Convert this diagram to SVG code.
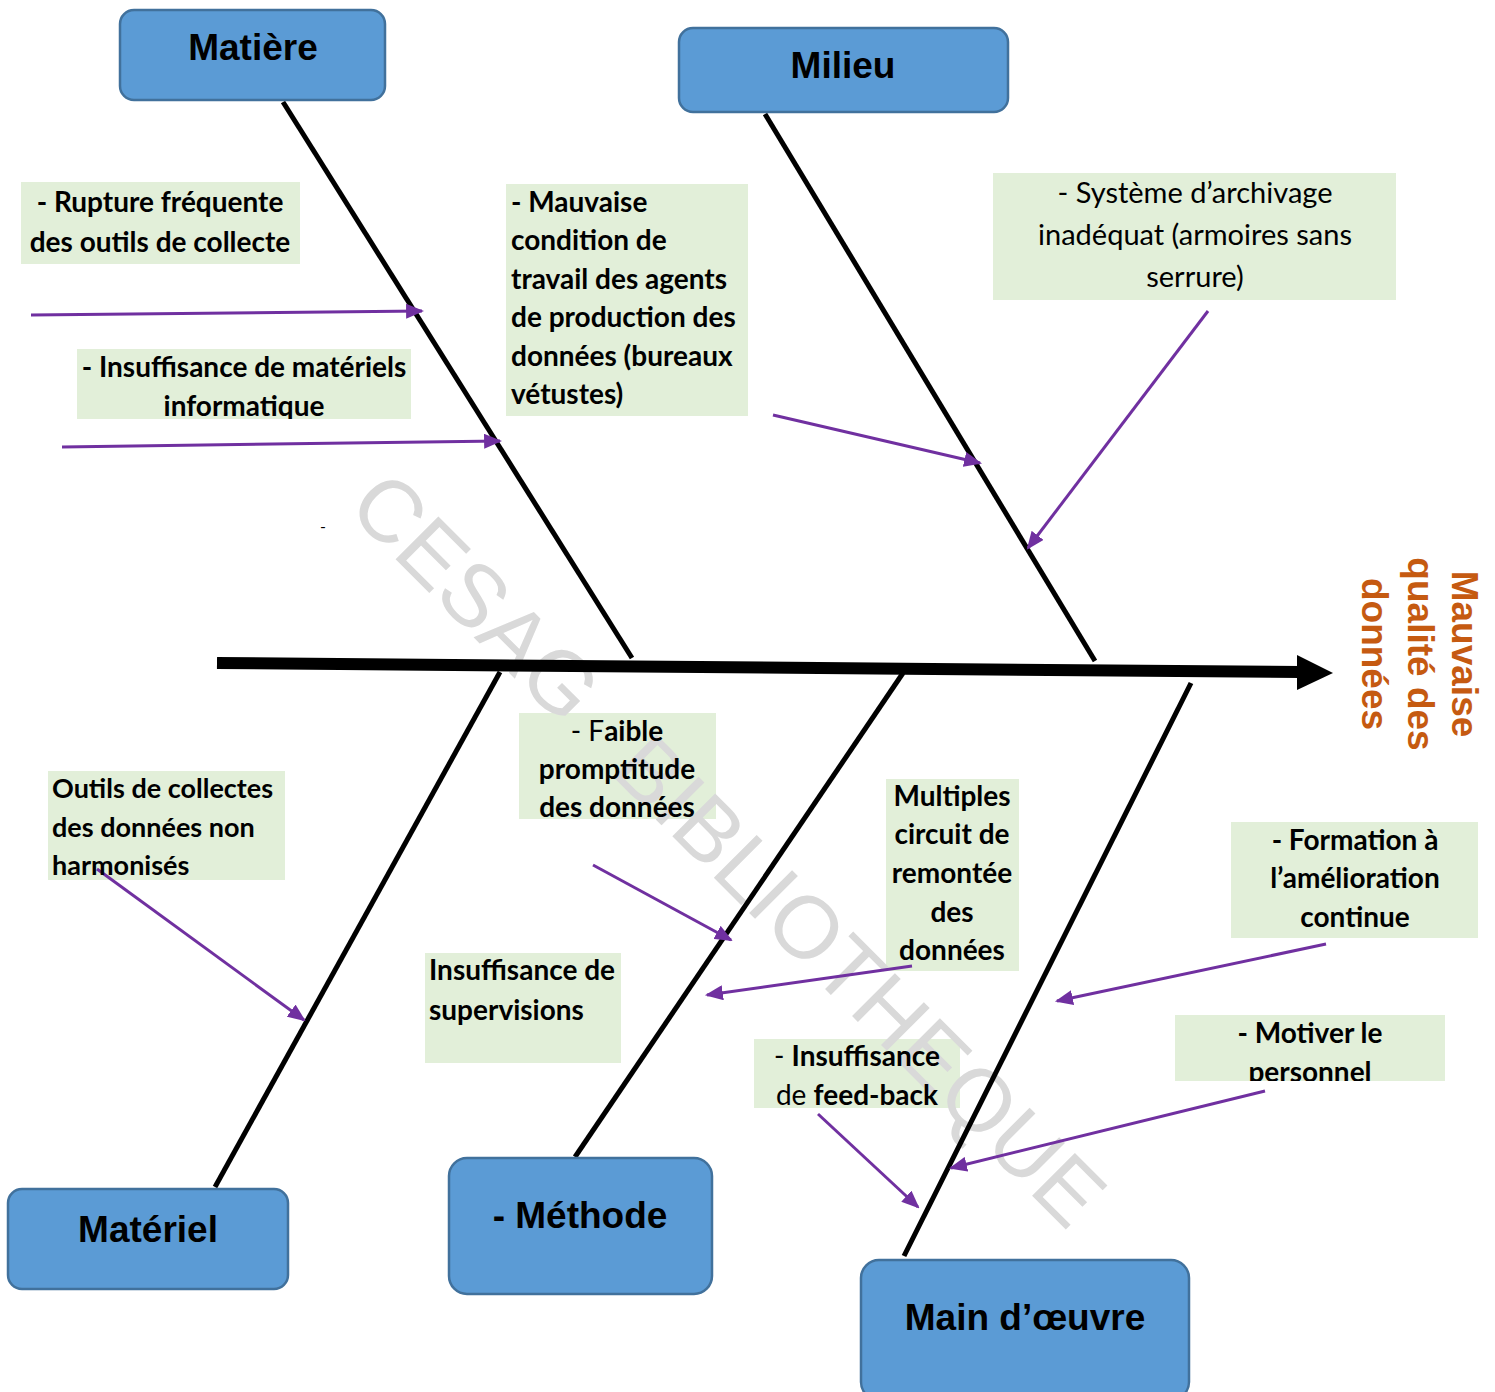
<svg xmlns="http://www.w3.org/2000/svg" width="1495" height="1392" viewBox="0 0 1495 1392">
  <style>
    .cat rect { fill: #5b9bd5; stroke: #41719c; stroke-width: 2.5; }
    .cat text { font-family: "Liberation Sans", Arial, sans-serif; font-weight: bold; font-size: 37px; fill: #000; text-anchor: middle; }
    .note { fill: #e2efd9; }
    .cause { font-family: Lato, "Open Sans", sans-serif; font-size: 28px; font-weight: bold; fill: #000; }
    .reg { font-weight: normal; }
    .mid { text-anchor: middle; }
    .big { font-size: 29px; }
    .small { font-size: 27px; }
    .bone { stroke: #000; stroke-width: 5; fill: none; }
    .arrow { stroke: #7030a0; stroke-width: 3; fill: none; marker-end: url(#head); }
    .wm { font-family: "Liberation Sans", Arial, sans-serif; font-size: 88px; fill: #d9d9d9; }
    .effect { font-family: "Liberation Sans", Arial, sans-serif; font-weight: bold; font-size: 37px; fill: #c55a11; text-anchor: middle; }
  </style>
  <defs>
    <marker id="head" viewBox="0 0 6 5" refX="5.3" refY="2.5" markerWidth="6" markerHeight="5" orient="auto" markerUnits="strokeWidth">
      <path d="M0,0 L6,2.5 L0,5 z" fill="#7030a0"/>
    </marker>
    <clipPath id="clipInfo"><rect x="77" y="349" width="334" height="70"/></clipPath>
    <clipPath id="clipPers"><rect x="1175" y="1015" width="270" height="66"/></clipPath>
  </defs>

  <rect width="1495" height="1392" fill="#fff"/>

  <!-- cause note backgrounds -->
  <g id="note-backgrounds">
    <rect class="note" x="21" y="182" width="279" height="82"/>
    <rect class="note" x="77" y="349" width="334" height="70"/>
    <rect class="note" x="506" y="184" width="242" height="232"/>
    <rect class="note" x="993" y="173" width="403" height="127"/>
    <rect class="note" x="48" y="771" width="237" height="109"/>
    <rect class="note" x="519" y="713" width="197" height="106"/>
    <rect class="note" x="886" y="779" width="133" height="192"/>
    <rect class="note" x="425" y="953" width="196" height="110"/>
    <rect class="note" x="754" y="1039" width="206" height="69"/>
    <rect class="note" x="1231" y="822" width="247" height="116"/>
    <rect class="note" x="1175" y="1015" width="270" height="66"/>
  </g>

  <!-- library watermark -->
  <g id="watermark" transform="translate(390,510) rotate(45)">
    <text class="wm" x="-32" y="31">CESAG</text>
    <text class="wm" x="340" y="31">BIBLIOTHEQUE</text>
  </g>

  <!-- skeleton and cause arrows -->
  <g id="connectors">
    <line x1="217" y1="663" x2="1300" y2="672" stroke="#000" stroke-width="12"/>
    <polygon points="1297,655 1333,673 1297,690" fill="#000"/>
    <line class="bone" x1="283" y1="102" x2="632" y2="658"/>
    <line class="bone" x1="765" y1="114" x2="1095" y2="661"/>
    <line class="bone" x1="500" y1="672" x2="215" y2="1187"/>
    <line class="bone" x1="903" y1="673" x2="575" y2="1157"/>
    <line class="bone" x1="1191" y1="683" x2="904" y2="1256"/>

    <line class="arrow" x1="31" y1="315" x2="422" y2="311"/>
    <line class="arrow" x1="62" y1="447" x2="500" y2="441"/>
    <line class="arrow" x1="773" y1="415" x2="980" y2="463"/>
    <line class="arrow" x1="1208" y1="311" x2="1028" y2="548"/>
    <line class="arrow" x1="97" y1="869" x2="304" y2="1020"/>
    <line class="arrow" x1="593" y1="865" x2="731" y2="940"/>
    <line class="arrow" x1="912" y1="966" x2="707" y2="995" stroke-width="4.5"/>
    <line class="arrow" x1="1326" y1="944" x2="1057" y2="1001"/>
    <line class="arrow" x1="1265" y1="1091" x2="951" y2="1168"/>
    <line class="arrow" x1="818" y1="1114" x2="918" y2="1207"/>
  </g>

  <!-- category boxes -->
  <g id="matiere" class="cat">
    <rect x="120" y="10" width="265" height="90" rx="14"/>
    <text x="253" y="60">Matière</text>
  </g>
  <g id="milieu" class="cat">
    <rect x="679" y="28" width="329" height="84" rx="14"/>
    <text x="843" y="78">Milieu</text>
  </g>
  <g id="materiel" class="cat">
    <rect x="8" y="1189" width="280" height="100" rx="14"/>
    <text x="148" y="1242">Matériel</text>
  </g>
  <g id="methode" class="cat">
    <rect x="449" y="1158" width="263" height="136" rx="18"/>
    <text x="580" y="1228">- Méthode</text>
  </g>
  <g id="main-oeuvre" class="cat">
    <rect x="861" y="1260" width="328" height="140" rx="18"/>
    <text x="1025" y="1330">Main d’œuvre</text>
  </g>

  <!-- effect -->
  <g id="effet" transform="translate(1418,654) rotate(90)">
    <text class="effect" x="0" y="-34">Mauvaise</text>
    <text class="effect" x="0" y="10">qualité des</text>
    <text class="effect" x="0" y="56">données</text>
  </g>

  <!-- cause notes -->
  <g id="rupture">
    <text class="cause mid" x="160" y="212">- Rupture fréquente</text>
    <text class="cause mid" x="160" y="252">des outils de collecte</text>
  </g>
  <g id="insuffisance-materiels" clip-path="url(#clipInfo)">
    <text class="cause mid" x="244" y="377">- Insuffisance de matériels</text>
    <text class="cause mid" x="244" y="416">informatique</text>
  </g>
  <g id="condition-travail">
    <text class="cause" x="511" y="212">- Mauvaise</text>
    <text class="cause" x="511" y="250">condition de</text>
    <text class="cause" x="511" y="289">travail des agents</text>
    <text class="cause" x="511" y="327">de production des</text>
    <text class="cause" x="511" y="366">données (bureaux</text>
    <text class="cause" x="511" y="404">vétustes)</text>
  </g>
  <g id="archivage">
    <text class="cause reg mid big" x="1195" y="203">- Système d’archivage</text>
    <text class="cause reg mid big" x="1195" y="245">inadéquat (armoires sans</text>
    <text class="cause reg mid big" x="1195" y="287">serrure)</text>
  </g>
  <g id="outils-collecte">
    <text class="cause small" x="52" y="798">Outils de collectes</text>
    <text class="cause small" x="52" y="837">des données non</text>
    <text class="cause small" x="52" y="875">harmonisés</text>
  </g>
  <g id="promptitude">
    <text class="cause mid" x="617" y="741"><tspan class="reg">- F</tspan>aible</text>
    <text class="cause mid" x="617" y="779">promptitude</text>
    <text class="cause mid" x="617" y="817">des données</text>
  </g>
  <g id="circuit-remontee">
    <text class="cause mid" x="952" y="806">Multiples</text>
    <text class="cause mid" x="952" y="844">circuit de</text>
    <text class="cause mid" x="952" y="883">remontée</text>
    <text class="cause mid" x="952" y="922">des</text>
    <text class="cause mid" x="952" y="960">données</text>
  </g>
  <g id="supervisions">
    <text class="cause" x="429" y="980">Insuffisance de</text>
    <text class="cause" x="429" y="1020">supervisions</text>
  </g>
  <g id="feed-back">
    <text class="cause mid" x="857" y="1066"><tspan class="reg">- </tspan>Insuffisance</text>
    <text class="cause mid" x="857" y="1105"><tspan class="reg">de </tspan>feed-back</text>
  </g>
  <g id="formation">
    <text class="cause mid" x="1355" y="850">- Formation à</text>
    <text class="cause mid" x="1355" y="888">l’amélioration</text>
    <text class="cause mid" x="1355" y="927">continue</text>
  </g>
  <g id="motivation" clip-path="url(#clipPers)">
    <text class="cause mid" x="1310" y="1043">- Motiver le</text>
    <text class="cause mid" x="1310" y="1082">personnel</text>
  </g>
  <text id="tiret" x="320" y="532" font-family="Lato, sans-serif" font-size="16" fill="#000">-</text>
</svg>
